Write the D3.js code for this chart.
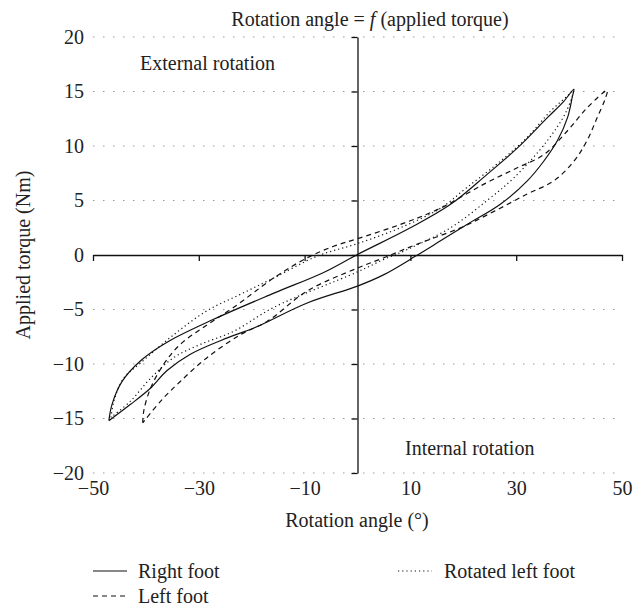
<!DOCTYPE html>
<html>
<head>
<meta charset="utf-8">
<script src="https://cdn.jsdelivr.net/npm/d3@7"></script>
<style>
body{margin:0;background:#fff}
svg text{font-family:"Liberation Serif","DejaVu Serif",serif;fill:#222}
</style>
</head>
<body>
<svg id="svg1" width="641" height="608"></svg>
<script>
// [angle, torque] along each loop, starting and ending at the lower-left tip
var rightFoot = [[-47,-15.2],[-46.4,-13.7],[-44.5,-11.6],[-41,-9.7],[-36,-8],[-27.2,-5.9],[-15.8,-3.5],[-6.4,-1.6],[0,0.05],
  [10,2.5],[17.6,4.65],[24.5,7.4],[30.2,9.8],[35.9,12.6],[39,14.1],[40.9,15.2],
  [40.6,14.5],[39.7,12.6],[37.8,10.5],[35.2,8.6],[32.1,6.8],[27,4.65],[20.7,2.8],[15.7,1.3],[11,-0.1],[5,-1.8],[0,-2.85],
  [-9.5,-4.4],[-19.6,-6.7],[-24.6,-7.6],[-31.6,-9.1],[-36,-10.6],[-39.1,-12.2],[-42.9,-13.7],[-47,-15.2]]
var leftFoot = [[-40.6,-15.4],[-40.4,-14.3],[-39.1,-12.2],[-36.6,-10],[-33.5,-8.2],[-28.4,-6.4],[-23.4,-4.8],[-15.8,-2.1],[-9.5,-0.25],[-4.5,0.8],[0,1.5],
  [8.1,2.8],[15.7,4.3],[23.9,6.5],[30.2,8],[35.2,9.2],[39.7,11.4],[43.4,13.5],[47.2,15.1],
  [46.8,14.3],[45.3,12.6],[43.4,10.5],[40.9,8.6],[37.1,6.8],[32.1,5.6],[25.8,4],[19.5,2.5],[11.3,1],[5,-0.25],[0,-1.2],
  [-9.5,-3.3],[-17.1,-6.1],[-22.1,-7.3],[-28.4,-9.4],[-33.5,-11.6],[-37.2,-13.4],[-40.6,-15.4]]
var rotatedLeftFoot = [[-46.6,-14.9],[-46,-13.3],[-44.2,-11.3],[-41,-9.9],[-34.7,-7.3],[-28.4,-5.1],[-22.1,-3.6],[-15.8,-2.1],[-7.6,-0.1],[0,1.05],
  [8.1,2.5],[15.7,4.3],[20.7,6.2],[27,8.6],[32.1,10.8],[36.5,13.2],[39.7,14.6],[40.8,15.1],
  [39.5,13.2],[35.9,10.5],[29.6,7.1],[24.5,5],[17.6,2.5],[9.4,0.5],[5,-0.4],[0,-1.55],
  [-15.8,-4.8],[-23.4,-7],[-29.7,-8.2],[-34.7,-9.4],[-39.1,-11.3],[-42.9,-13.4],[-46.6,-14.9]]

var xTicks = [-50,-30,-10,10,30,50]
var yTicks = [-20,-15,-10,-5,0,5,10,15,20]
var seriesNames = ["Right foot","Left foot","Rotated left foot"]

var fs = "20px"
var svg = d3.select("#svg1")
var x = d3.scaleLinear().domain([-50,50]).range([93,622])
var y = d3.scaleLinear().domain([-20,20]).range([473,37])

// dotted grid
svg.append("g").selectAll("line").data(yTicks.filter(function(d){return d!=0})).enter().append("line")
  .attr("x1",x(-50)).attr("x2",x(50))
  .attr("y1",function(d){return y(d)}).attr("y2",function(d){return y(d)})
  .attr("stroke","#999").attr("stroke-width",1.2).attr("stroke-dasharray","1.5,8.5")

// axes crossing at zero
var xa = svg.append("g").attr("transform","translate(0,"+y(0)+")")
  .call(d3.axisBottom(x).tickValues(xTicks).tickSize(6).tickSizeOuter(0).tickFormat(""))
var ya = svg.append("g").attr("transform","translate("+x(0)+",0)")
  .call(d3.axisLeft(y).tickValues(yTicks).tickSize(6).tickSizeOuter(0).tickFormat(""))
svg.selectAll(".domain, .tick line").attr("stroke","#111").attr("stroke-width",1.3)

// tick labels (low position)
var xl = svg.append("g").attr("transform","translate(0,"+y(-20)+")")
  .call(d3.axisBottom(x).tickValues(xTicks).tickSize(0).tickPadding(8))
var yl = svg.append("g").attr("transform","translate("+x(-50)+",0)")
  .call(d3.axisLeft(y).tickValues(yTicks).tickSize(0).tickPadding(9))
xl.select(".domain").remove()
yl.select(".domain").remove()
svg.selectAll("g").attr("font-family",null).attr("font-size",null)
svg.selectAll("text").style("font-size",fs)

var line = d3.line().x(function(d){return x(d[0])}).y(function(d){return y(d[1])}).curve(d3.curveCatmullRom.alpha(0.5))
var styles = [null,"5,4","1.2,3"]
;[rightFoot,leftFoot,rotatedLeftFoot].forEach(function(s,i){
  svg.append("path").datum(s).attr("d",line).attr("fill","none")
    .attr("stroke","#111").attr("stroke-width",1.2).attr("stroke-dasharray",styles[i])
})

// texts
var title = svg.append("text").attr("x",370).attr("y",26).attr("text-anchor","middle").style("font-size",fs)
title.append("tspan").text("Rotation angle = ")
title.append("tspan").style("font-style","italic").text("f")
title.append("tspan").text(" (applied torque)")
svg.append("text").attr("x",140).attr("y",70).style("font-size",fs).text("External rotation")
svg.append("text").attr("x",405).attr("y",455).style("font-size",fs).text("Internal rotation")
svg.append("text").attr("x",357).attr("y",527).attr("text-anchor","middle").style("font-size",fs).text("Rotation angle (°)")
svg.append("text").attr("transform","translate(30,255) rotate(-90)").attr("text-anchor","middle").style("font-size",fs).text("Applied torque (Nm)")

// legend
var leg = [[93,571],[93,596],[398,571]]
leg.forEach(function(p,i){
  svg.append("line").attr("x1",p[0]).attr("x2",p[0]+34).attr("y1",p[1]).attr("y2",p[1])
    .attr("stroke","#111").attr("stroke-width",1.2).attr("stroke-dasharray",styles[i])
  svg.append("text").attr("x",p[0]+(i==2?46:45)).attr("y",p[1]+7).style("font-size",fs).text(seriesNames[i])
})
</script>
</body>
</html>
